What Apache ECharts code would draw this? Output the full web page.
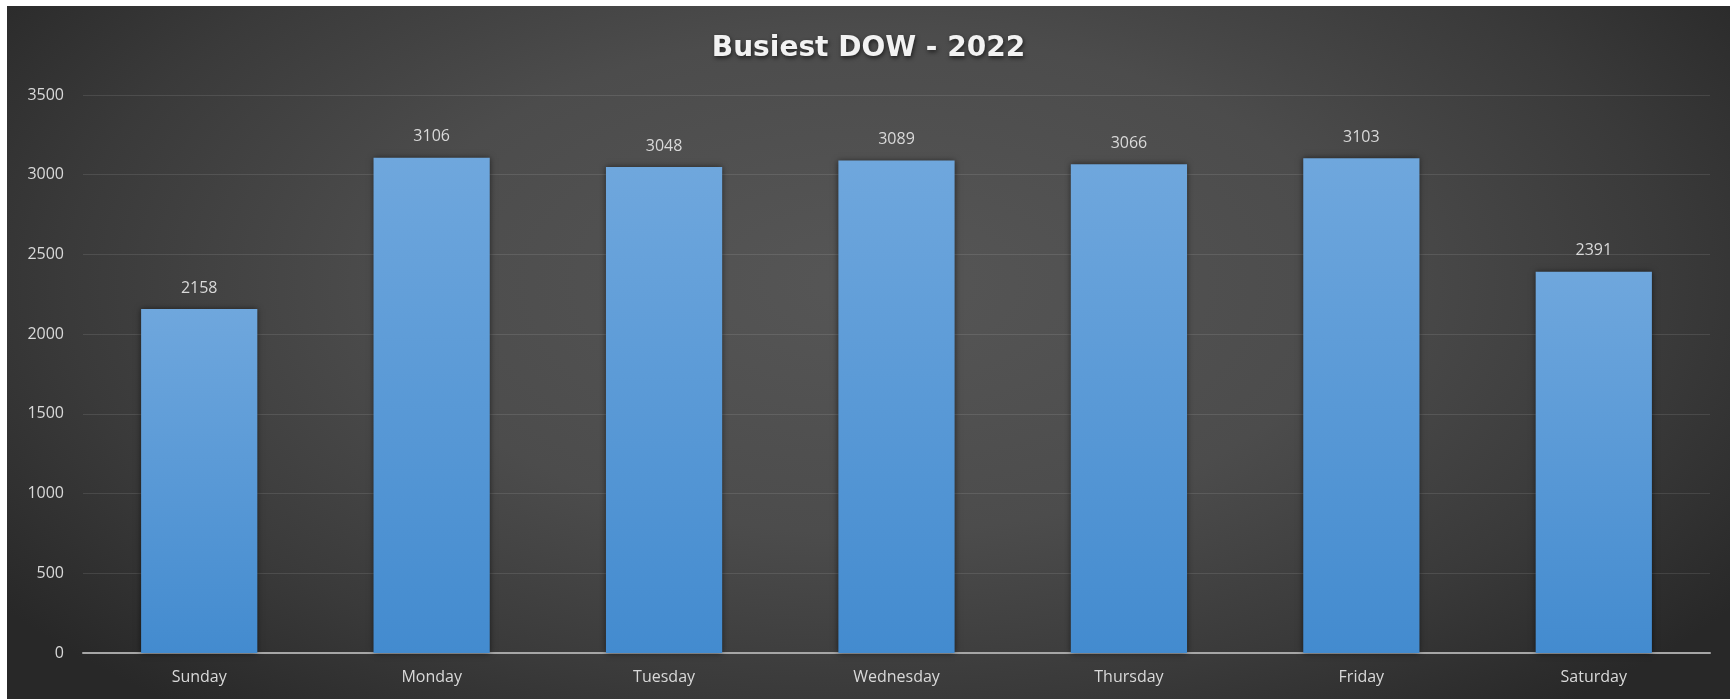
<!DOCTYPE html>
<html>
<head>
<meta charset="utf-8">
<script src="https://cdn.jsdelivr.net/npm/echarts@6/dist/echarts.min.js"></script>
<style>
html,body{margin:0;padding:0;background:#ffffff;width:1730px;height:699px;overflow:hidden;}
#chart{position:absolute;left:7px;top:6px;width:1723px;height:693px;
  background: radial-gradient(ellipse 62% 80% at 50% 40%, #565656 0%, #4c4c4c 45%, #3a3a3a 75%, #282828 100%);}
</style>
</head>
<body>
<div id="chart"></div>
<script>
const titleText = 'Busiest DOW - 2022';
const categories = ['Sunday', 'Monday', 'Tuesday', 'Wednesday', 'Thursday', 'Friday', 'Saturday'];
const values = [2158, 3106, 3048, 3089, 3066, 3103, 2391];
const yTicks = [0, 500, 1000, 1500, 2000, 2500, 3000, 3500];

const chart = echarts.init(document.getElementById('chart'), null, {renderer: 'canvas'});
const font = '"Open Sans", "Noto Sans", sans-serif';
chart.setOption({
  backgroundColor: 'transparent',
  animation: false,
  title: {
    text: titleText,
    left: 'center',
    top: 24,
    textStyle: {
      color: '#f2f2f2', fontFamily: '"DejaVu Sans", sans-serif', fontSize: 28, fontWeight: 'bold',
      textShadowColor: 'rgba(0,0,0,0.6)', textShadowBlur: 4, textShadowOffsetX: 1, textShadowOffsetY: 2
    }
  },
  grid: {left: 76, right: 20, top: 89, bottom: 46, containLabel: false},
  xAxis: {
    type: 'category',
    data: categories,
    axisLine: {lineStyle: {color: '#a6a6a6', width: 2}},
    axisTick: {show: false},
    axisLabel: {color: '#d9d9d9', fontFamily: font, fontSize: 16, margin: 16}
  },
  yAxis: {
    type: 'value',
    min: yTicks[0],
    max: yTicks[yTicks.length - 1],
    interval: 500,
    axisLine: {show: false},
    axisTick: {show: false},
    axisLabel: {color: '#d9d9d9', fontFamily: font, fontSize: 16, margin: 19, formatter: v => String(v)},
    splitLine: {lineStyle: {color: 'rgba(255,255,255,0.1)', width: 1}}
  },
  series: [{
    type: 'bar',
    data: values,
    barWidth: '50%',
    itemStyle: {
      color: new echarts.graphic.LinearGradient(0, 0, 0, 1, [
        {offset: 0, color: '#6fa7dd'},
        {offset: 1, color: '#438bcf'}
      ]),
      shadowColor: 'rgba(0,0,0,0.55)',
      shadowBlur: 6
    },
    label: {
      show: true,
      position: 'top',
      distance: 13,
      color: '#d9d9d9',
      fontFamily: font,
      fontSize: 16
    }
  }]
});
</script>
</body>
</html>
